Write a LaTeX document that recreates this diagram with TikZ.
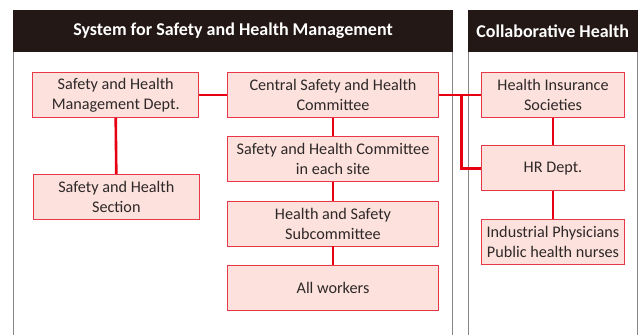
\documentclass[tikz,border=0pt]{standalone}
\usepackage{fontspec}
\setmainfont{Carlito}
\definecolor{hdr}{HTML}{231815}
\definecolor{lnred}{HTML}{E60012}
\definecolor{bxred}{HTML}{E83848}
\definecolor{bxfill}{HTML}{FCE1DC}
\definecolor{txt}{HTML}{2E2828}
\definecolor{pan}{HTML}{8A8585}
\tikzset{
  orgbox/.style={draw=bxred, fill=bxfill, line width=0.9pt, align=center, text=txt,
    font=\fontsize{16.2}{20}\selectfont, inner sep=0pt, minimum height=45pt},
  conn/.style={draw=lnred, line width=2.6pt},
  hdrtext/.style={text=white, font=\bfseries\fontsize{18}{21}\selectfont, inner sep=0pt},
  panline/.style={draw=pan, line width=1.2pt}
}
\begin{document}
\begin{tikzpicture}[x=1pt,y=-1pt]
\useasboundingbox (0,0) rectangle (640,335);
% panels
\fill[hdr] (13,10) rectangle (453,52);
\fill[hdr] (467.7,10) rectangle (637.7,52);
\draw[panline] (13.6,52) -- (13.6,335);
\draw[panline] (452.6,52) -- (452.6,335);
\draw[panline] (468.3,52) -- (468.3,335);
\draw[panline] (637.1,52) -- (637.1,335);
\node[hdrtext] (h1) at (233,31) {System for Safety and Health Management};
\node[hdrtext] (h2) at (552.7,31) {Collaborative Health};
% boxes
\node[orgbox, minimum width=166pt] (shm) at (115.7,94.8) {Safety and Health\\Management Dept.};
\node[orgbox, minimum width=166pt] (sec) at (116.3,196.8) {Safety and Health\\Section};
\node[orgbox, minimum width=211.4pt] (cen) at (333,94.8) {Central Safety and Health\\Committee};
\node[orgbox, minimum width=211.4pt] (site) at (333,159.2) {Safety and Health Committee\\in each site};
\node[orgbox, minimum width=211.4pt] (sub) at (333,223.5) {Health and Safety\\Subcommittee};
\node[orgbox, minimum width=211.4pt] (all) at (333,287.8) {All workers};
\node[orgbox, minimum width=143.4pt] (hi) at (553,94.8) {Health Insurance\\Societies};
\node[orgbox, minimum width=143.4pt] (hr) at (553,168.2) {HR Dept.};
\node[orgbox, minimum width=143.4pt] (ind) at (553,241.8) {Industrial Physicians\\Public health nurses};
% connectors
\coordinate (j) at (461.7,94.8);
\coordinate (jb) at (461.7,168.2);
\path[conn] (shm.east) -- (cen.west);
\path[conn] (shm.south) -- (sec.north);
\path[conn] (cen.south) -- (site.north);
\path[conn] (site.south) -- (sub.north);
\path[conn] (sub.south) -- (all.north);
\path[conn] (cen.east) -- (hi.west);
\path[conn] (j) -- (jb) -- (hr.west);
\path[conn] (hi.south) -- (hr.north);
\path[conn] (hr.south) -- (ind.north);
\end{tikzpicture}
\end{document}
